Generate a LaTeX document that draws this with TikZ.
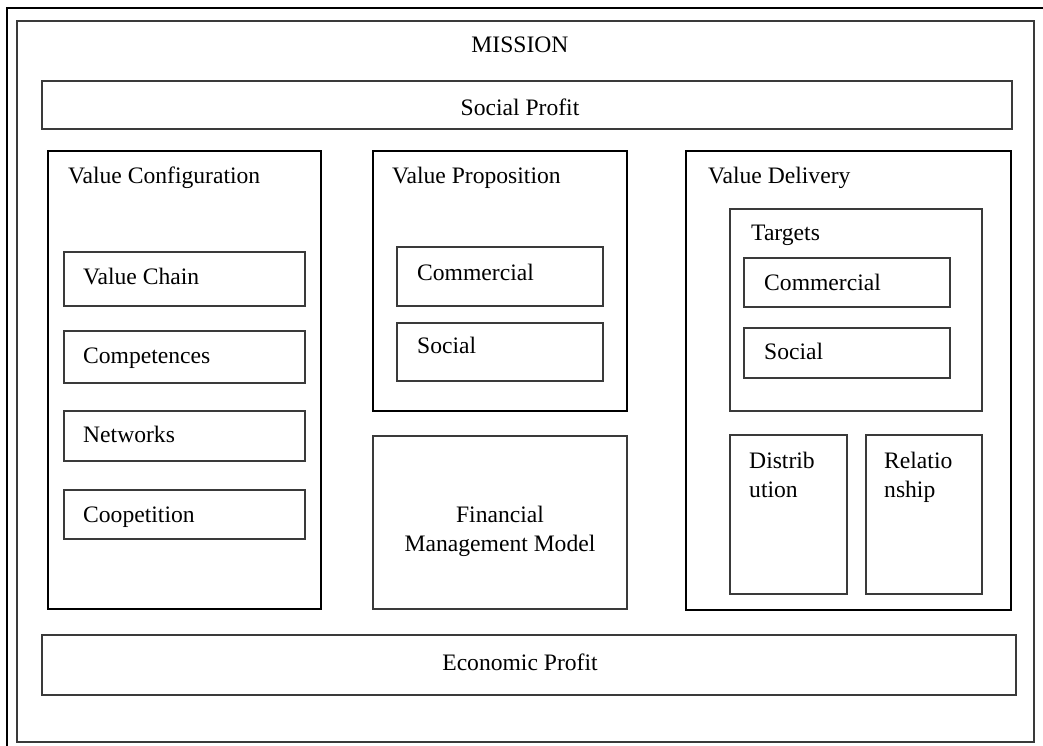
\documentclass[tikz,border=0pt]{standalone}
\usepackage{fontspec}
\setmainfont{Liberation Serif}
\definecolor{thinc}{HTML}{3A3A3A}
\tikzset{
  boxbase/.style={rectangle, inner sep=0pt, outer sep=0pt, anchor=north west},
  thinbox/.style={boxbase, draw=thinc, line width=1.3pt},
  thickbox/.style={boxbase, draw=black, line width=2.6pt},
  lbl/.style={inner sep=0pt, anchor=base, font=\fontsize{23.6}{29}\selectfont},
  lblw/.style={inner sep=0pt, anchor=base west, font=\fontsize{23.6}{29}\selectfont},
}
\begin{document}
\begin{tikzpicture}[x=1pt,y=-1pt]
\useasboundingbox (0,0) rectangle (1043,746);
% outer frame (cut off)
\coordinate (ofb) at (7,746);
\coordinate (oft) at (7,8);
\coordinate (ofr) at (1043,8);
\draw[line width=2.6pt] (ofb) -- (oft) -- (ofr);
% inner frame
\node[thinbox, minimum width=1017pt, minimum height=721pt] (frame) at (17,21) {};
\node[lbl] (mission) at (520,53) {MISSION};
% social profit
\node[thinbox, minimum width=970pt, minimum height=48pt] (sp) at (42,81) {};
\node[lbl] (sptext) at (520,116) {Social Profit};
% value configuration
\node[thickbox, minimum width=273pt, minimum height=458pt] (vc) at (48,151) {};
\node[lblw] (vctext) at (68,183) {Value Configuration};
\node[thinbox, minimum width=241pt, minimum height=54pt] (vch) at (64,252) {};
\node[lblw] (vchtext) at (83,284) {Value Chain};
\node[thinbox, minimum width=241pt, minimum height=52pt] (comp) at (64,331) {};
\node[lblw] (comptext) at (83,363) {Competences};
\node[thinbox, minimum width=241pt, minimum height=50pt] (net) at (64,411) {};
\node[lblw] (nettext) at (83,442) {Networks};
\node[thinbox, minimum width=241pt, minimum height=49pt] (coop) at (64,490) {};
\node[lblw] (cooptext) at (83,522) {Coopetition};
% value proposition
\node[thickbox, minimum width=254pt, minimum height=260pt] (vp) at (373,151) {};
\node[lblw] (vptext) at (392,183) {Value Proposition};
\node[thinbox, minimum width=206pt, minimum height=59pt] (vpc) at (397,247) {};
\node[lblw] (vpctext) at (417,280) {Commercial};
\node[thinbox, minimum width=206pt, minimum height=58pt] (vps) at (397,323) {};
\node[lblw] (vpstext) at (417,353) {Social};
% financial management model
\node[thinbox, minimum width=254pt, minimum height=173pt] (fmm) at (373,436) {};
\node[lbl] (fmmtext1) at (500,522) {Financial};
\node[lbl] (fmmtext2) at (500,551) {Management Model};
% value delivery
\node[thickbox, minimum width=325pt, minimum height=459pt] (vd) at (686,151) {};
\node[lblw] (vdtext) at (708,183) {Value Delivery};
\node[thinbox, minimum width=252pt, minimum height=202pt] (tg) at (730,209) {};
\node[lblw] (tgtext) at (751,240) {Targets};
\node[thinbox, minimum width=206pt, minimum height=49pt] (tgc) at (744,258) {};
\node[lblw] (tgctext) at (764,290) {Commercial};
\node[thinbox, minimum width=206pt, minimum height=50pt] (tgs) at (744,328) {};
\node[lblw] (tgstext) at (764,359) {Social};
\node[thinbox, minimum width=117pt, minimum height=159pt] (dist) at (730,435) {};
\node[lblw] (disttext1) at (749,468) {Distrib};
\node[lblw] (disttext2) at (749,497) {ution};
\node[thinbox, minimum width=116pt, minimum height=159pt] (rel) at (866,435) {};
\node[lblw] (reltext1) at (884,468) {Relatio};
\node[lblw] (reltext2) at (884,497) {nship};
% economic profit
\node[thinbox, minimum width=974pt, minimum height=60pt] (ep) at (42,635) {};
\node[lbl] (eptext) at (520,670) {Economic Profit};
\end{tikzpicture}
\end{document}
